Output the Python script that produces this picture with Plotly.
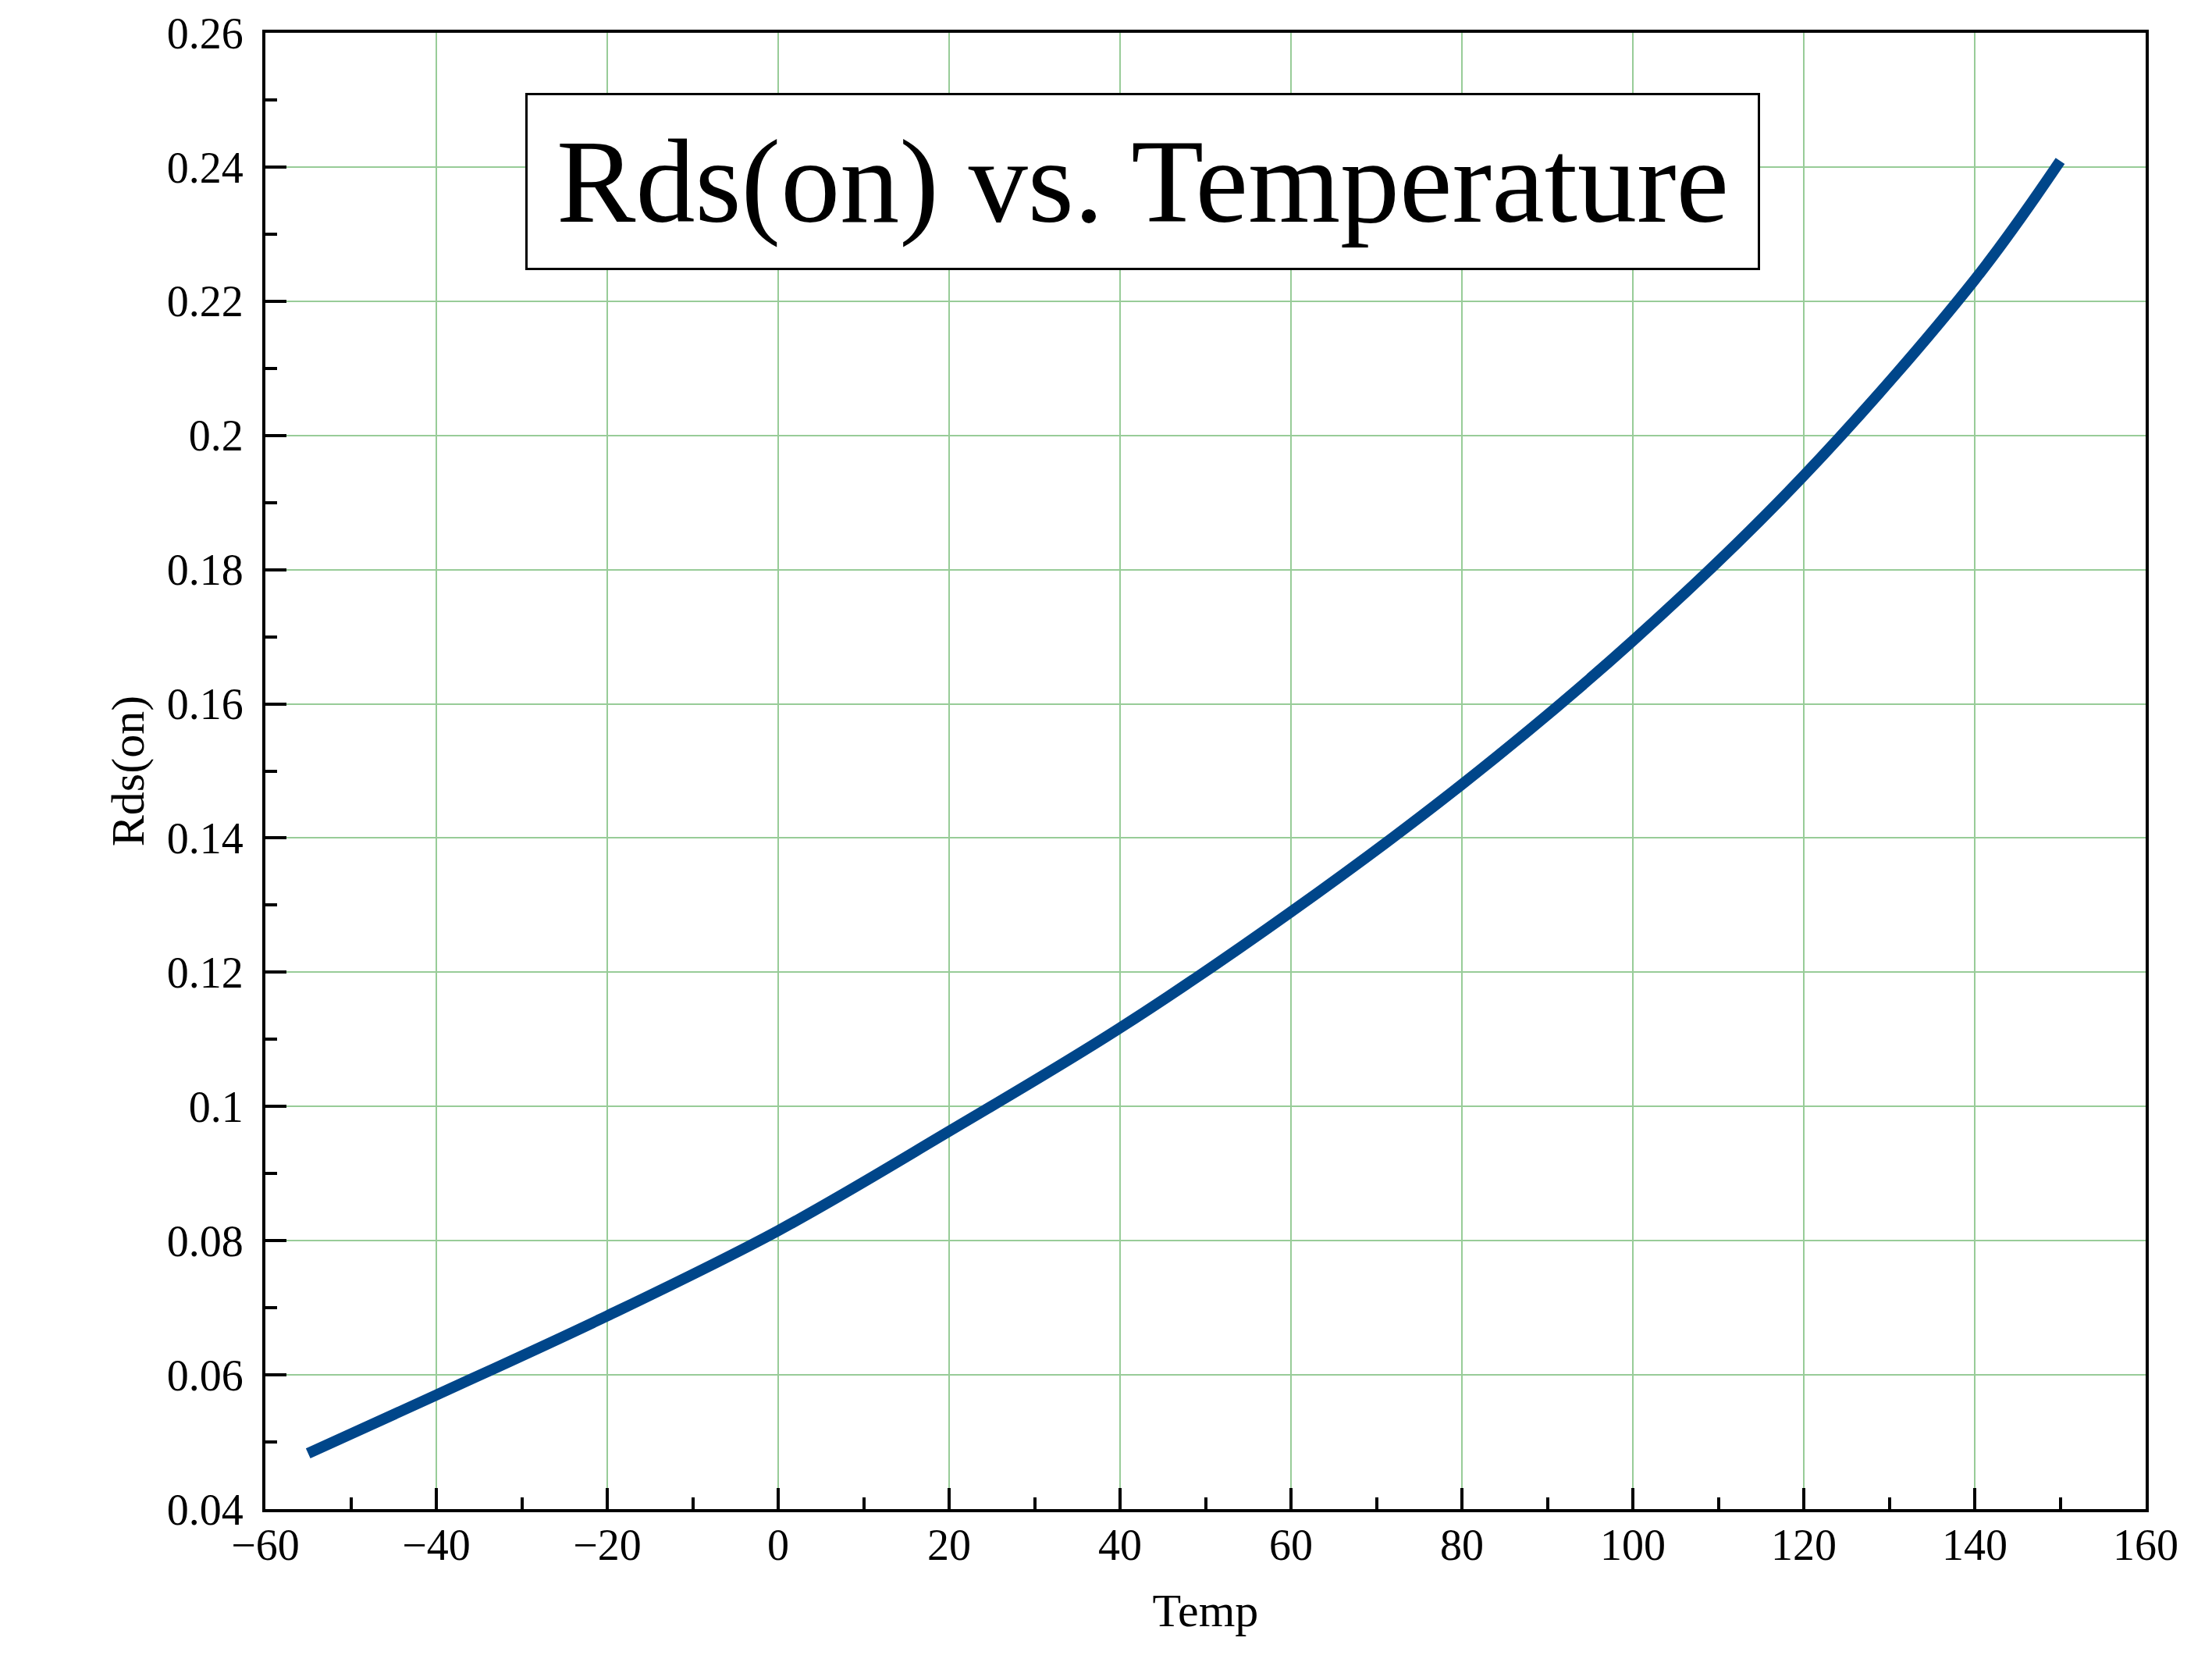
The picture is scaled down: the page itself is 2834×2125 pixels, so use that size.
import plotly.graph_objects as go

# values
temp = [-55, -40, -20, 0, 20, 40, 60, 80, 100, 120, 140, 150]
rds_on = [0.0483, 0.0570, 0.0688, 0.0815, 0.0963, 0.1117, 0.1290, 0.1480,
          0.1694, 0.1940, 0.2232, 0.2409]

x_range = [-60, 160]
y_range = [0.04, 0.26]

line_color = '#00468A'
grid_color = '#98CC98'
font_family = 'Liberation Serif, Times New Roman, serif'


def axis_style(dtick, minor_dtick, label_shift):
    return dict(
        showline=True, linecolor='black', linewidth=4, mirror=True,
        ticks='inside', ticklen=27, tickwidth=4, tickcolor='black',
        dtick=dtick,
        minor=dict(ticks='inside', ticklen=15, tickwidth=4, tickcolor='black',
                   dtick=minor_dtick, showgrid=False),
        showgrid=True, gridcolor=grid_color, gridwidth=2,
        zeroline=False, automargin=False,
        ticklabelstandoff=label_shift,
        tickfont=dict(size=56, color='black', family=font_family),
    )


fig = go.Figure(
    go.Scatter(
        x=temp, y=rds_on,
        mode='lines',
        line=dict(color=line_color, width=14, shape='spline'),
        showlegend=False,
    )
)

fig.update_xaxes(
    range=x_range,
    title=dict(text='Temp', font=dict(size=60, color='black', family=font_family),
               standoff=33),
    **axis_style(20, 10, -6),
)
fig.update_yaxes(
    range=y_range,
    title=dict(text='Rds(on)', font=dict(size=60, color='black', family=font_family),
               standoff=11),
    **axis_style(0.02, 0.01, 13),
)

fig.add_annotation(
    text='Rds(on) vs. Temperature',
    xref='paper', yref='paper', x=0.4666, y=0.899,
    xanchor='center', yanchor='middle', showarrow=False,
    font=dict(size=152, color='black', family=font_family),
    bgcolor='white', bordercolor='black', borderwidth=3,
    width=1560, height=205, borderpad=8,
)

# the page body adds an 8px offset, so the margins are shifted to compensate
fig.update_layout(
    width=2834, height=2125,
    margin=dict(l=332, r=93, t=34, b=200),
    paper_bgcolor='white', plot_bgcolor='white',
    font=dict(family=font_family, color='black'),
)

fig.write_html('out.html')
